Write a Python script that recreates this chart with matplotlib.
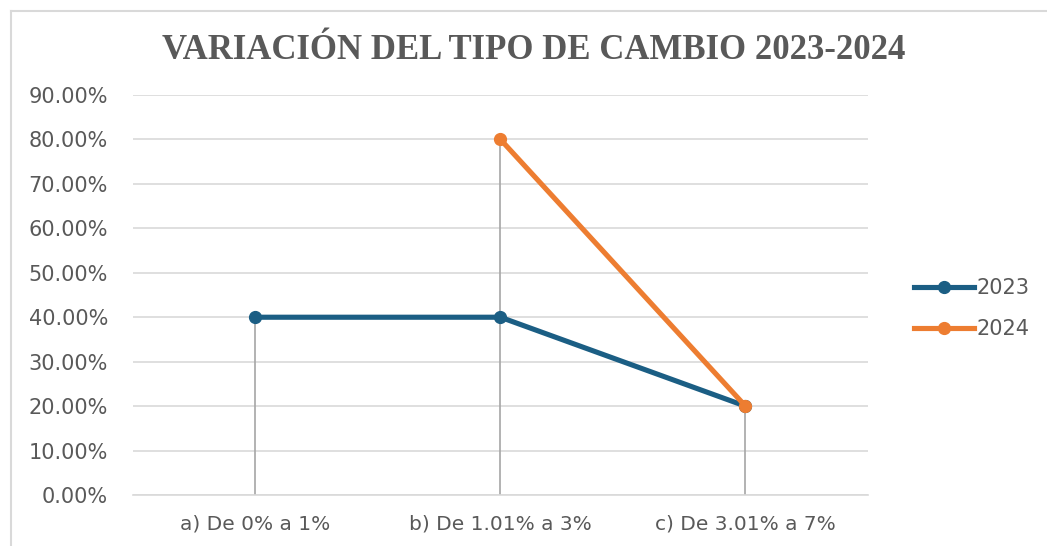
#!/usr/bin/env python3
import matplotlib
matplotlib.use('Agg')
import matplotlib.pyplot as plt
import numpy as np
from matplotlib.lines import Line2D
from matplotlib.ticker import FuncFormatter

categories = ['a) De 0% a 1%', 'b) De 1.01% a 3%', 'c) De 3.01% a 7%']
vals_2023 = [0.40, 0.40, 0.20]
vals_2024 = [np.nan, 0.80, 0.20]
yticks = [0.0, 0.1, 0.2, 0.3, 0.4, 0.5, 0.6, 0.7, 0.8, 0.9]

blue = '#1b5e84'
orange = '#ed7d31'
txt = '#595959'

fig = plt.figure(figsize=(10.47, 5.46), dpi=100)
ax = fig.add_axes([0.127, 0.0934, 0.702, 0.7326])

x = np.arange(len(categories))
# drop lines from highest point to the axis
tops = np.nanmax(np.vstack([vals_2023, vals_2024]), axis=0)
ax.vlines(x, 0, tops, color='#a6a6a6', lw=1.2, zorder=2)

ax.plot(x, vals_2023, color=blue, lw=3.7, marker='o', ms=8.5, label='2023', zorder=3,
        solid_capstyle='round')
ax.plot(x, vals_2024, color=orange, lw=3.7, marker='o', ms=8.5, label='2024', zorder=4,
        solid_capstyle='round')

ax.set_xlim(-0.5, 2.5)
ax.set_ylim(0, 0.9)
ax.set_yticks(yticks)
ax.yaxis.set_major_formatter(FuncFormatter(lambda v, p: '{:.2f}%'.format(v * 100)))
ax.set_xticks(x)
ax.set_xticklabels(categories, fontsize=14.5, color=txt)
ax.tick_params(axis='y', length=0, pad=18, labelsize=15, labelcolor=txt)
ax.tick_params(axis='x', length=0, pad=14)
ax.grid(axis='y', color='#d9d9d9', lw=1.2)
ax.set_axisbelow(True)
for s in ['top', 'right', 'left']:
    ax.spines[s].set_visible(False)
ax.spines['bottom'].set_color('#d9d9d9')
ax.spines['bottom'].set_linewidth(1.2)

fig.text(0.51, 0.908, 'VARIACIÓN DEL TIPO DE CAMBIO 2023-2024', ha='center', va='center',
         fontsize=25, fontweight='bold', color=txt, family='Liberation Serif')

handles = [Line2D([], [], color=blue, lw=3.7, marker='o', ms=8.5),
           Line2D([], [], color=orange, lw=3.7, marker='o', ms=8.5)]
fig.legend(handles, ['2023', '2024'], loc='center left', bbox_to_anchor=(0.855, 0.435),
           frameon=False, fontsize=15, labelcolor=txt, handlelength=2.9,
           handletextpad=0.1, labelspacing=1.0)

# chart border
fig.add_artist(Line2D([11 / 1047, 1.0], [1 - 11 / 546, 1 - 11 / 546], color='#d9d9d9', lw=1.5))
fig.add_artist(Line2D([11 / 1047, 11 / 1047], [0.0, 1 - 11 / 546], color='#d9d9d9', lw=1.5))

fig.savefig('out.png', dpi=100, facecolor='white')
